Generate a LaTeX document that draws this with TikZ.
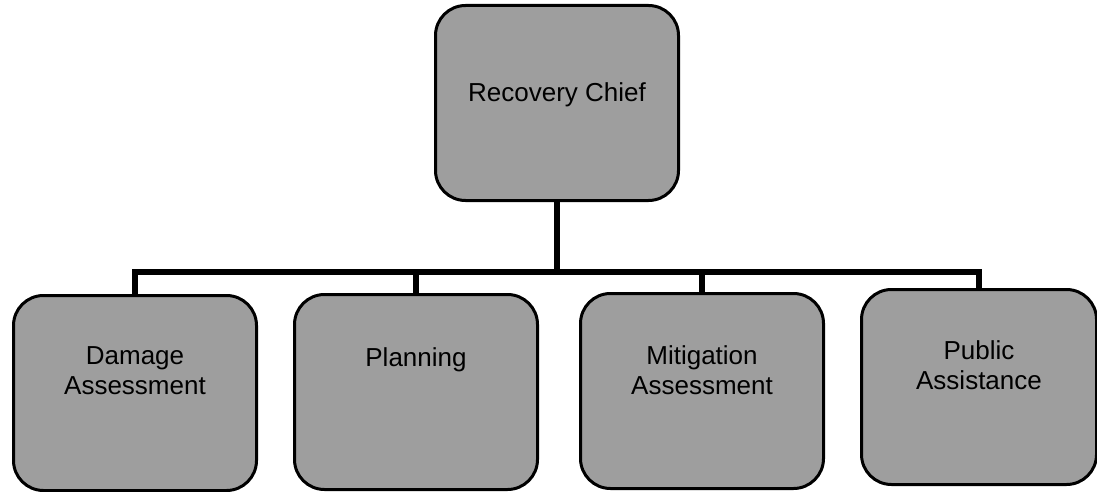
\documentclass[tikz,border=0pt]{standalone}
\usepackage{fontspec}
\setmainfont{Liberation Sans}
\usetikzlibrary{positioning, calc}

\definecolor{boxgray}{gray}{0.62}

\begin{document}
\begin{tikzpicture}[x=1pt, y=-1pt,
    unit/.style={draw=black, line width=3pt, fill=boxgray, rounded corners=30pt,
      minimum width=243pt, minimum height=195pt, inner sep=0pt},
    unitname/.style={font=\fontsize{26}{30}\selectfont, align=center, inner sep=0pt},
    link/.style={line width=5.5pt}]
  \useasboundingbox (0,0) rectangle (1097,492);

  % --- Top box ---
  \node[unit] (chief) at (557,103) {};
  \node[unitname] (chieftxt) at ([yshift=8pt]chief.center) {Recovery Chief};

  % --- Boxes of the second row ---
  \node[unit] (damage)     at (135,393) {};
  \node[unit] (planning)   at (416,392) {};
  \node[unit] (mitigation) at (702,391) {};
  \node[unit, minimum width=235pt] (public) at (979,387) {};

  \node[unitname, anchor=north] (damagetxt)     at ([yshift=-52pt]damage.north)     {Damage\\Assessment};
  \node[unitname, anchor=north] (planningtxt)   at ([yshift=-54pt]planning.north)   {Planning};
  \node[unitname, anchor=north] (mitigationtxt) at ([yshift=-53pt]mitigation.north) {Mitigation\\Assessment};
  \node[unitname, anchor=north] (publictxt)     at ([yshift=-52pt]public.north)     {Public\\Assistance};

  % --- Connectors ---
  \coordinate (bus) at (0,272);
  \draw[link] (chief.south) -- (chief.south |- bus);
  \draw[link] (damage.north) -- (damage.north |- bus) -- (public.north |- bus) -- (public.north);
  \foreach \u in {planning, mitigation}
    \draw[link] (\u.north) -- (\u.north |- bus);
\end{tikzpicture}
\end{document}
